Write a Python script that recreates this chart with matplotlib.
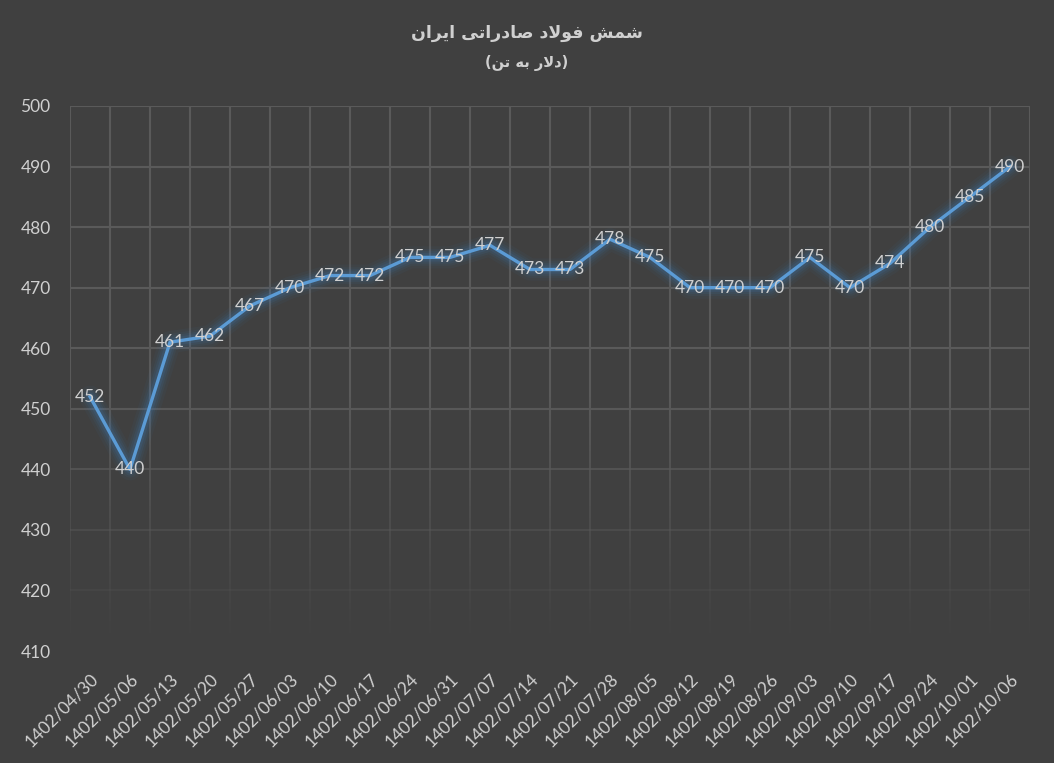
import numpy as np
import matplotlib
matplotlib.use('Agg')
import matplotlib.pyplot as plt
from matplotlib.collections import LineCollection

dates = ['1402/04/30', '1402/05/06', '1402/05/13', '1402/05/20', '1402/05/27',
         '1402/06/03', '1402/06/10', '1402/06/17', '1402/06/24', '1402/06/31',
         '1402/07/07', '1402/07/14', '1402/07/21', '1402/07/28', '1402/08/05',
         '1402/08/12', '1402/08/19', '1402/08/26', '1402/09/03', '1402/09/10',
         '1402/09/17', '1402/09/24', '1402/10/01', '1402/10/06']
prices = [452, 440, 461, 462, 467, 470, 472, 472, 475, 475, 477, 473, 473,
          478, 475, 470, 470, 470, 475, 470, 474, 480, 485, 490]
title = 'شمش فولاد صادراتی ایران'
subtitle = '(دلار به تن)'

# presentation forms: isolated, final, initial, medial (None = no left join)
forms = {
    'ا': ('\uFE8D', '\uFE8E', None, None),
    'د': ('\uFEA9', '\uFEAA', None, None),
    'ر': ('\uFEAD', '\uFEAE', None, None),
    'و': ('\uFEED', '\uFEEE', None, None),
    'ب': ('\uFE8F', '\uFE90', '\uFE91', '\uFE92'),
    'ت': ('\uFE95', '\uFE96', '\uFE97', '\uFE98'),
    'ش': ('\uFEB5', '\uFEB6', '\uFEB7', '\uFEB8'),
    'ص': ('\uFEB9', '\uFEBA', '\uFEBB', '\uFEBC'),
    'ف': ('\uFED1', '\uFED2', '\uFED3', '\uFED4'),
    'ل': ('\uFEDD', '\uFEDE', '\uFEDF', '\uFEE0'),
    'م': ('\uFEE1', '\uFEE2', '\uFEE3', '\uFEE4'),
    'ن': ('\uFEE5', '\uFEE6', '\uFEE7', '\uFEE8'),
    'ه': ('\uFEE9', '\uFEEA', '\uFEEB', '\uFEEC'),
    'ی': ('\uFEEF', '\uFEF0', '\uFEF3', '\uFEF4'),
}


def shape(s):
    out = []
    i = 0
    while i < len(s):
        c = s[i]
        if c not in forms:
            out.append(c)
            i += 1
            continue
        prev = s[i - 1] if i > 0 else ''
        joins_prev = prev in forms and forms[prev][2] is not None
        if c == 'ل' and i + 1 < len(s) and s[i + 1] == 'ا':
            out.append('\uFEFC' if joins_prev else '\uFEFB')
            i += 2
            continue
        nxt = s[i + 1] if i + 1 < len(s) else ''
        joins_next = forms[c][2] is not None and nxt in forms
        f = forms[c]
        if joins_prev and joins_next:
            out.append(f[3])
        elif joins_prev:
            out.append(f[1])
        elif joins_next:
            out.append(f[2])
        else:
            out.append(f[0])
        i += 1
    vis = ''.join(reversed(out))
    return vis.translate(str.maketrans('()', ')('))


bg = '#404040'
grid_c = '#5a5a5a'
txt_c = '#d0d0d0'
blue = '#5b9bd5'

fig = plt.figure(figsize=(10.54, 7.63), dpi=100, facecolor=bg)
ax = fig.add_axes([70 / 1054, 1 - 651 / 763, 960 / 1054, 545 / 763])
ax.set_facecolor(bg)

x = np.arange(len(prices))
ax.set_xlim(-0.5, len(prices) - 0.5)
ax.set_ylim(410, 500)

# grid fading toward the bottom
def fade(y):
    return np.clip((y - 412) / 40.0, 0, 1)

ys = np.linspace(410, 500, 91)
segs, cols = [], []
for xb in np.arange(-0.5, len(prices), 1.0):
    for y0, y1 in zip(ys[:-1], ys[1:]):
        segs.append([(xb, y0), (xb, y1)])
        a = fade((y0 + y1) / 2)
        cols.append(matplotlib.colors.to_rgba(grid_c, a))
ax.add_collection(LineCollection(segs, colors=cols, linewidths=1.5, zorder=1))
for yv in range(420, 501, 10):
    ax.axhline(yv, color=grid_c, alpha=float(fade(yv)), lw=1.5, zorder=1)

# glow
for lw, a in [(16, 0.05), (12, 0.07), (9, 0.10), (6, 0.14)]:
    ax.plot(x, prices, color='#3d7fc0', lw=lw, alpha=a, solid_capstyle='round',
            solid_joinstyle='round', zorder=2)
ax.plot(x, prices, color=blue, lw=2.4, solid_joinstyle='round', zorder=3)

for xi, v in zip(x, prices):
    ax.text(xi, v, str(v), ha='center', va='center', color=txt_c,
            fontsize=12.5, family='Lato', zorder=4)

ax.set_yticks(range(410, 501, 10))
ax.set_xticks(x)
ax.set_xticklabels(dates, rotation=45, ha='right', rotation_mode='anchor',
                   fontsize=12.5, family='Lato', color=txt_c)
ax.tick_params(axis='x', length=0, pad=14)
ax.tick_params(axis='y', length=0, pad=14, labelsize=12.5, labelcolor=txt_c)
for lab in ax.get_yticklabels():
    lab.set_family('Lato')
for s in ax.spines.values():
    s.set_visible(False)

fig.text(527 / 1054, 1 - 33 / 763, shape(title), ha='center', va='center',
         color=txt_c, fontsize=12.5, fontweight='bold', family='DejaVu Sans')
fig.text(527 / 1054, 1 - 63 / 763, shape(subtitle), ha='center', va='center',
         color=txt_c, fontsize=10.5, fontweight='bold', family='DejaVu Sans')

fig.savefig('out.png', dpi=100, facecolor=bg)
